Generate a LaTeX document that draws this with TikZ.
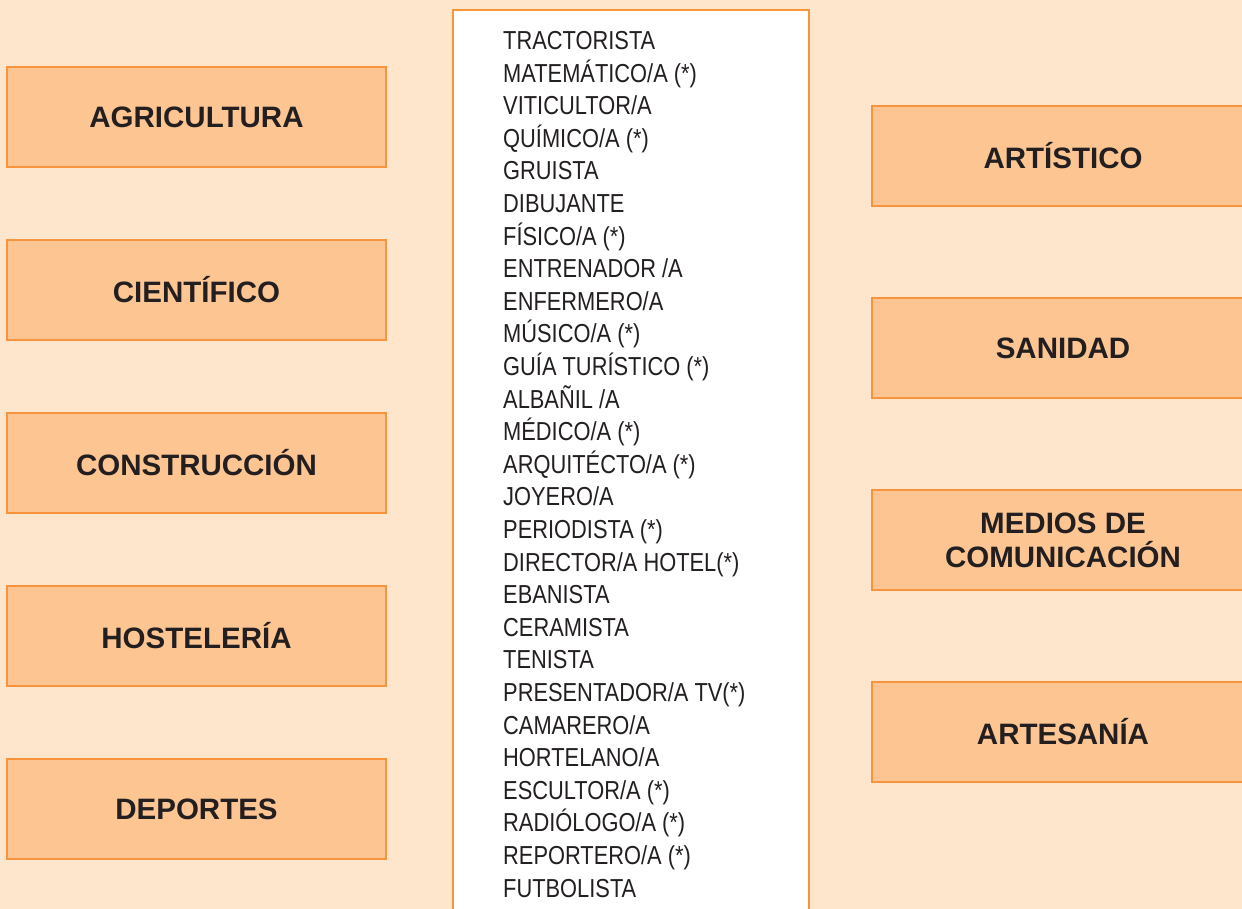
\documentclass[tikz,border=0pt]{standalone}
\usepackage{fontspec}
\setmainfont{Liberation Sans}
\newfontfamily\narrowfont[FakeStretch=0.84]{Liberation Sans}
\definecolor{pagebg}{RGB}{254,230,205}
\definecolor{boxfill}{RGB}{253,197,146}
\definecolor{boxline}{RGB}{247,148,61}
\definecolor{ink}{RGB}{35,31,32}

\begin{document}
\begin{tikzpicture}[x=1pt,y=-1pt,
                    sector/.style={draw=boxline,line width=2.5pt,fill=boxfill,
                      minimum height=100pt,inner sep=0pt,text=ink,align=center,
                      font=\fontsize{29.5}{34}\selectfont\bfseries},
                    leftsector/.style={sector,minimum width=379pt},
                    rightsector/.style={sector,minimum width=382pt},
                    job/.style={anchor=base west,inner sep=0pt,text=ink,
                      font=\narrowfont\fontsize{26}{28}\selectfont}]
  \useasboundingbox (0,0) rectangle (1242,909);
  \fill[pagebg] (0,0) rectangle (1242,909);
  % sectors on the left
  \node[leftsector] (agri) at (196.5,117) {AGRICULTURA};
  \node[leftsector] (cien) at (196.5,290) {CIENTÍFICO};
  \node[leftsector] (cons) at (196.5,463) {CONSTRUCCIÓN};
  \node[leftsector] (host) at (196.5,636) {HOSTELERÍA};
  \node[leftsector] (depo) at (196.5,809) {DEPORTES};
  % sectors on the right
  \node[rightsector] (arti) at (1063,156) {ARTÍSTICO};
  \node[rightsector] (sani) at (1063,348) {SANIDAD};
  \node[rightsector] (medi) at (1063,540) {MEDIOS DE\\COMUNICACIÓN};
  \node[rightsector] (arte) at (1063,732) {ARTESANÍA};
  % list of jobs
  \draw[boxline,line width=2.5pt,fill=white] (453,10) rectangle (809,940);
  \node[job] (j01) at (503,49.5) {TRACTORISTA};
  \node[job] (j02) at (503,82.1) {MATEMÁTICO/A (*)};
  \node[job] (j03) at (503,114.7) {VITICULTOR/A};
  \node[job] (j04) at (503,147.3) {QUÍMICO/A (*)};
  \node[job] (j05) at (503,179.9) {GRUISTA};
  \node[job] (j06) at (503,212.5) {DIBUJANTE};
  \node[job] (j07) at (503,245.1) {FÍSICO/A (*)};
  \node[job] (j08) at (503,277.7) {ENTRENADOR /A};
  \node[job] (j09) at (503,310.3) {ENFERMERO/A};
  \node[job] (j10) at (503,342.9) {MÚSICO/A (*)};
  \node[job] (j11) at (503,375.5) {GUÍA TURÍSTICO (*)};
  \node[job] (j12) at (503,408.1) {ALBAÑIL /A};
  \node[job] (j13) at (503,440.7) {MÉDICO/A (*)};
  \node[job] (j14) at (503,473.3) {ARQUITÉCTO/A (*)};
  \node[job] (j15) at (503,505.9) {JOYERO/A};
  \node[job] (j16) at (503,538.5) {PERIODISTA (*)};
  \node[job] (j17) at (503,571.1) {DIRECTOR/A HOTEL(*)};
  \node[job] (j18) at (503,603.7) {EBANISTA};
  \node[job] (j19) at (503,636.3) {CERAMISTA};
  \node[job] (j20) at (503,668.9) {TENISTA};
  \node[job] (j21) at (503,701.5) {PRESENTADOR/A TV(*)};
  \node[job] (j22) at (503,734.1) {CAMARERO/A};
  \node[job] (j23) at (503,766.7) {HORTELANO/A};
  \node[job] (j24) at (503,799.3) {ESCULTOR/A (*)};
  \node[job] (j25) at (503,831.9) {RADIÓLOGO/A (*)};
  \node[job] (j26) at (503,864.5) {REPORTERO/A (*)};
  \node[job] (j27) at (503,897.1) {FUTBOLISTA};
\end{tikzpicture}
\end{document}
